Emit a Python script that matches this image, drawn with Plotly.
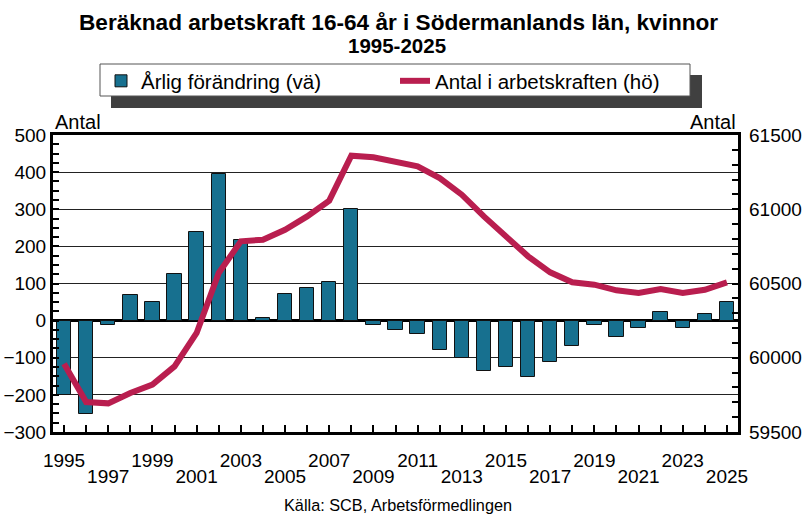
import plotly.graph_objects as go

# Data
years = list(range(1995, 2026))
annual_change = [
    -200, -252, -12, 68, 51, 125, 240, 394, 216, 6,
    72, 89, 105, 301, -12, -25, -35, -80, -101, -135,
    -124, -151, -112, -69, -13, -43, -19, 22, -21, 19, 51,
]
labour_force = [
    59960, 59702, 59693, 59763, 59819, 59942, 60167, 60571, 60784, 60795,
    60862, 60952, 61058, 61361, 61350, 61320, 61289, 61210, 61098, 60952,
    60818, 60683, 60575, 60508, 60492, 60454, 60436, 60463, 60436, 60458, 60508,
]
row1_years = [1995, 1999, 2003, 2007, 2011, 2015, 2019, 2023]
row2_years = [1997, 2001, 2005, 2009, 2013, 2017, 2021, 2025]

FONT = "Liberation Sans, Arial, sans-serif"
BAR_COLOR = "#17708F"
LINE_COLOR = "#B91E4F"

W, H = 804, 516
L, R, T, B = 53, 66, 135, 84
PW, PH = W - L - R, H - T - B


def px_x(px):
    return (px - L) / PW


def px_y(py):
    return (H - B - py) / PH


fig = go.Figure()
fig.add_trace(
    go.Bar(
        x=years,
        y=annual_change,
        width=0.65,
        marker={"color": BAR_COLOR, "line": {"color": "#111111", "width": 1}},
        name="Årlig förändring (vä)",
    )
)
fig.add_trace(
    go.Scatter(
        x=years,
        y=labour_force,
        yaxis="y2",
        mode="lines",
        line={"color": LINE_COLOR, "width": 6},
        name="Antal i arbetskraften (hö)",
    )
)
# empty trace so the second row of year labels gets drawn
fig.add_trace(
    go.Scatter(x=years, y=annual_change, xaxis="x2", mode="none", showlegend=False, hoverinfo="skip")
)

tick_font = {"family": FONT, "size": 19, "color": "black"}
x_range = [years[0] - 0.5, years[-1] + 0.5]

fig.update_layout(
    width=W,
    height=H,
    margin={"l": L, "r": R, "t": T, "b": B, "autoexpand": False},
    paper_bgcolor="white",
    plot_bgcolor="white",
    font={"family": FONT, "color": "black"},
    bargap=0,
    xaxis={
        "range": x_range,
        "tickmode": "array",
        "tickvals": years,
        "ticktext": [str(y) if y in row1_years else "" for y in years],
        "ticks": "inside",
        "ticklen": 7,
        "tickwidth": 1.5,
        "tickcolor": "black",
        "tickfont": tick_font,
        "ticklabelstandoff": 9,
        "showline": True,
        "linewidth": 3,
        "linecolor": "black",
        "mirror": True,
        "showgrid": False,
        "zeroline": False,
        "automargin": False,
    },
    xaxis2={
        "range": x_range,
        "overlaying": "x",
        "anchor": "y",
        "side": "bottom",
        "tickmode": "array",
        "tickvals": row2_years,
        "ticktext": [str(y) for y in row2_years],
        "ticks": "",
        "tickfont": tick_font,
        "ticklabelstandoff": 31,
        "showline": False,
        "showgrid": False,
        "zeroline": False,
        "automargin": False,
    },
    yaxis={
        "range": [-300, 500],
        "tickmode": "linear",
        "tick0": -300,
        "dtick": 100,
        "ticks": "inside",
        "ticklen": 6,
        "tickwidth": 1.5,
        "tickcolor": "black",
        "tickfont": tick_font,
        "ticklabelstandoff": 0,
        "minor": {"dtick": 25, "ticks": "inside", "ticklen": 6, "tickwidth": 1.5, "tickcolor": "black", "showgrid": False},
        "showgrid": True,
        "gridcolor": "#222222",
        "gridwidth": 1.3,
        "zeroline": True,
        "zerolinecolor": "black",
        "zerolinewidth": 3,
        "showline": True,
        "linewidth": 3,
        "linecolor": "black",
        "mirror": True,
        "automargin": False,
    },
    yaxis2={
        "range": [59500, 61500],
        "overlaying": "y",
        "side": "right",
        "tickmode": "linear",
        "tick0": 59500,
        "dtick": 500,
        "tickformat": "d",
        "ticks": "inside",
        "ticklen": 6,
        "tickwidth": 1.5,
        "tickcolor": "black",
        "tickfont": tick_font,
        "ticklabelstandoff": 10,
        "minor": {"dtick": 100, "ticks": "inside", "ticklen": 6, "tickwidth": 1.5, "tickcolor": "black", "showgrid": False},
        "showgrid": False,
        "zeroline": False,
        "showline": False,
        "automargin": False,
    },
    showlegend=True,
    legend={
        "orientation": "h",
        "x": px_x(101),
        "xanchor": "left",
        "y": px_y(81),
        "yanchor": "middle",
        "bgcolor": "rgba(0,0,0,0)",
        "borderwidth": 0,
        "entrywidth": 249,
        "font": {"family": FONT, "size": 20.5, "color": "black"},
    },
    shapes=[
        # legend shadow and box
        {"type": "rect", "xref": "paper", "yref": "paper",
         "x0": px_x(111), "x1": px_x(702), "y0": px_y(108), "y1": px_y(75),
         "fillcolor": "#404040", "line": {"width": 0}, "layer": "above"},
        {"type": "rect", "xref": "paper", "yref": "paper",
         "x0": px_x(100), "x1": px_x(690), "y0": px_y(96), "y1": px_y(64),
         "fillcolor": "white", "line": {"color": "#555555", "width": 1}, "layer": "above"},
    ],
    annotations=[
        {"text": "<b>Beräknad arbetskraft 16-64 år i Södermanlands län, kvinnor</b>",
         "xref": "paper", "yref": "paper", "x": px_x(398.5), "y": px_y(23),
         "xanchor": "center", "yanchor": "middle", "showarrow": False,
         "font": {"family": FONT, "size": 22.6, "color": "black"}},
        {"text": "<b>1995-2025</b>",
         "xref": "paper", "yref": "paper", "x": px_x(397), "y": px_y(46),
         "xanchor": "center", "yanchor": "middle", "showarrow": False,
         "font": {"family": FONT, "size": 20.5, "color": "black"}},
        {"text": "Antal", "xref": "paper", "yref": "paper", "x": 0, "y": px_y(122),
         "xanchor": "left", "yanchor": "middle", "showarrow": False,
         "font": {"family": FONT, "size": 20, "color": "black"}},
        {"text": "Antal", "xref": "paper", "yref": "paper", "x": 1, "y": px_y(122),
         "xanchor": "right", "yanchor": "middle", "showarrow": False,
         "font": {"family": FONT, "size": 20, "color": "black"}},
        {"text": "Källa: SCB, Arbetsförmedlingen", "xref": "paper", "yref": "paper",
         "x": px_x(397.5), "y": px_y(505), "xanchor": "center", "yanchor": "middle",
         "showarrow": False, "font": {"family": FONT, "size": 16.3, "color": "black"}},
    ],
)

# the page body has a default 8px margin; drop it so the figure fills the window
fig.write_html(
    "out.html",
    config={"displayModeBar": False},
    post_script="document.body.style.margin = '0';",
)
